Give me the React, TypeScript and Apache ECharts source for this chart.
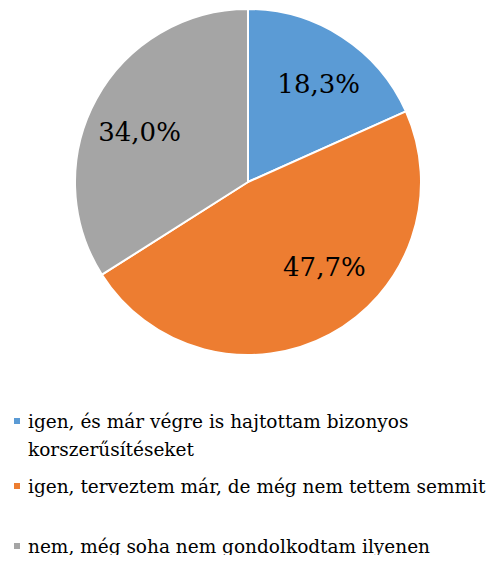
import React, { useEffect, useRef } from "react";
import * as echarts from "echarts";

const categories = [
  "igen, és már végre is hajtottam bizonyos\nkorszerűsítéseket",
  "igen, terveztem már, de még nem tettem semmit",
  "nem, még soha nem gondolkodtam ilyenen",
];
const values = [18.3, 47.7, 34.0];
const colors = ["#5B9BD5", "#ED7D31", "#A5A5A5"];
const labelOffsets = [
  [22, -23],
  [34, 6],
  [-30, -7],
];

const FONT = "DejaVu Serif";

export default function App() {
  const ref = useRef<HTMLDivElement>(null);
  useEffect(() => {
    if (!ref.current) return;
    const chart = echarts.init(ref.current, undefined, { renderer: "svg" });
    const textStyle = {
      fontFamily: FONT,
      fontSize: 18.5,
      lineHeight: 28,
      color: "#000",
      padding: [0, 0, 0, 2],
    };
    const legendBase = {
      orient: "vertical" as const,
      left: 12,
      padding: 0,
      itemWidth: 8,
      itemHeight: 8,
      icon: "rect",
      selectedMode: false,
      textStyle,
    };
    chart.setOption({
      animation: false,
      backgroundColor: "#ffffff",
      legend: [
        {
          ...legendBase,
          top: 379,
          data: [categories[0]],
          formatter: (name: string) => "\n" + name,
        },
        { ...legendBase, top: 472, data: [categories[1]] },
        { ...legendBase, top: 532, data: [categories[2]] },
      ],
      series: [
        {
          type: "pie",
          center: [248, 182],
          radius: [0, 173],
          startAngle: 90,
          clockwise: true,
          avoidLabelOverlap: false,
          itemStyle: { borderColor: "#ffffff", borderWidth: 2 },
          label: {
            show: true,
            position: "inside",
            fontFamily: FONT,
            fontSize: 26,
            color: "#000",
            formatter: (p: any) => p.value.toFixed(1).replace(".", ",") + "%",
          },
          labelLine: { show: false },
          emphasis: { disabled: true },
          data: categories.map((name, i) => ({
            name,
            value: values[i],
            itemStyle: { color: colors[i] },
            label: { offset: labelOffsets[i] },
          })),
        },
      ],
    });
    return () => chart.dispose();
  }, []);
  return <div ref={ref} style={{ width: 496, height: 563, margin: -8 }} />;
}
